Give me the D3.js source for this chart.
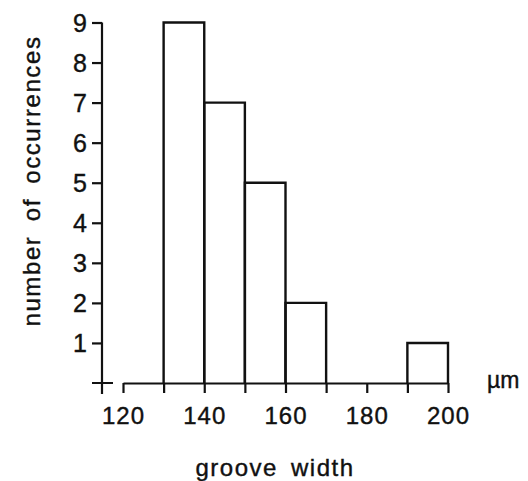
<!DOCTYPE html>
<html>
<head>
<meta charset="utf-8">
<script src="https://cdn.jsdelivr.net/npm/d3@7"></script>
<style>
	body { margin: 0; background: #fff; }
	text { font-family: "Liberation Sans", Arial, sans-serif; fill: #111; stroke: #111; stroke-width: 0.4px; }
</style>
</head>
<body>
<script>
(function () {
	"use strict";

	// histogram bins (groove width, um) and counts
	var binStarts = [130, 140, 150, 160, 170, 180, 190];
	var binWidth = 10;
	var counts = [9, 7, 5, 2, 0, 0, 1];
	var xTicks = [120, 140, 160, 180, 200];
	var xMinorTicks = [130, 150, 170, 190];
	var yTicks = [1, 2, 3, 4, 5, 6, 7, 8, 9];

	var w = 528;
	var h = 481;

	var svg = d3.select("body")
		.append("svg")
		.attr("width", w)
		.attr("height", h);

	// Scales
	var xScale = d3.scaleLinear()
		.domain([120, 200])
		.range([123, 448]);

	var yScale = d3.scaleLinear()
		.domain([0, 9])
		.range([383, 22.5]);

	var axisX = 102;

	// Bars (outline only)
	svg.selectAll("path.bar")
		.data(binStarts.map((d, i) => ({ x0: d, x1: d + binWidth, n: counts[i] })).filter((d) => d.n > 0))
		.enter()
		.append("path")
		.attr("class", "bar")
		.attr("d", (d) => "M" + xScale(d.x0) + "," + yScale(0) +
			"V" + yScale(d.n) + "H" + xScale(d.x1) + "V" + yScale(0))
		.attr("fill", "none")
		.attr("stroke", "#111")
		.attr("stroke-width", 2.4);

	// X axis
	var xAxisGen = d3.axisBottom()
		.scale(xScale)
		.tickValues(xTicks.concat(xMinorTicks))
		.tickSize(10)
		.tickSizeOuter(0)
		.tickPadding(14)
		.tickFormat((d) => xTicks.indexOf(d) >= 0 ? d : "");

	var xAxis = svg.append("g")
		.attr("transform", "translate(0," + yScale(0) + ")")
		.call(xAxisGen);

	xAxis.selectAll("path, line")
		.attr("stroke", "#111")
		.attr("stroke-width", 2.2);
	xAxis.selectAll("text")
		.style("font-size", "24px")
		.style("letter-spacing", "1px");

	// Y axis
	var yAxisGen = d3.axisLeft()
		.scale(yScale)
		.tickValues(yTicks)
		.tickSize(10)
		.tickSizeOuter(0)
		.tickPadding(5)
		.tickFormat(d3.format("d"));

	var yAxis = svg.append("g")
		.attr("transform", "translate(" + axisX + ",0)")
		.call(yAxisGen);

	yAxis.select(".domain").remove();
	yAxis.selectAll("line")
		.attr("stroke", "#111")
		.attr("stroke-width", 2.2);
	yAxis.selectAll("text")
		.style("font-size", "25px")
		.attr("dy", "0.36em");

	// axis line and the cross at zero
	svg.append("path")
		.attr("d", "M" + axisX + "," + yScale(9) + "V" + (yScale(0) + 11) +
			"M" + (axisX - 10) + "," + yScale(0) + "H" + (axisX + 11))
		.attr("fill", "none")
		.attr("stroke", "#111")
		.attr("stroke-width", 2.2);

	// Labels
	svg.append("text")
		.attr("x", 487)
		.attr("y", 388)
		.style("font-size", "23px")
		.text("\u00b5m");

	svg.append("text")
		.attr("x", 275)
		.attr("y", 476)
		.attr("text-anchor", "middle")
		.style("font-size", "24px")
		.style("letter-spacing", "1.5px")
		.style("word-spacing", "5px")
		.text("groove width");

	svg.append("text")
		.attr("transform", "translate(40,181) rotate(-90)")
		.attr("text-anchor", "middle")
		.style("font-size", "24px")
		.style("letter-spacing", "1.6px")
		.style("word-spacing", "6px")
		.text("number of occurrences");
})();
</script>
</body>
</html>
